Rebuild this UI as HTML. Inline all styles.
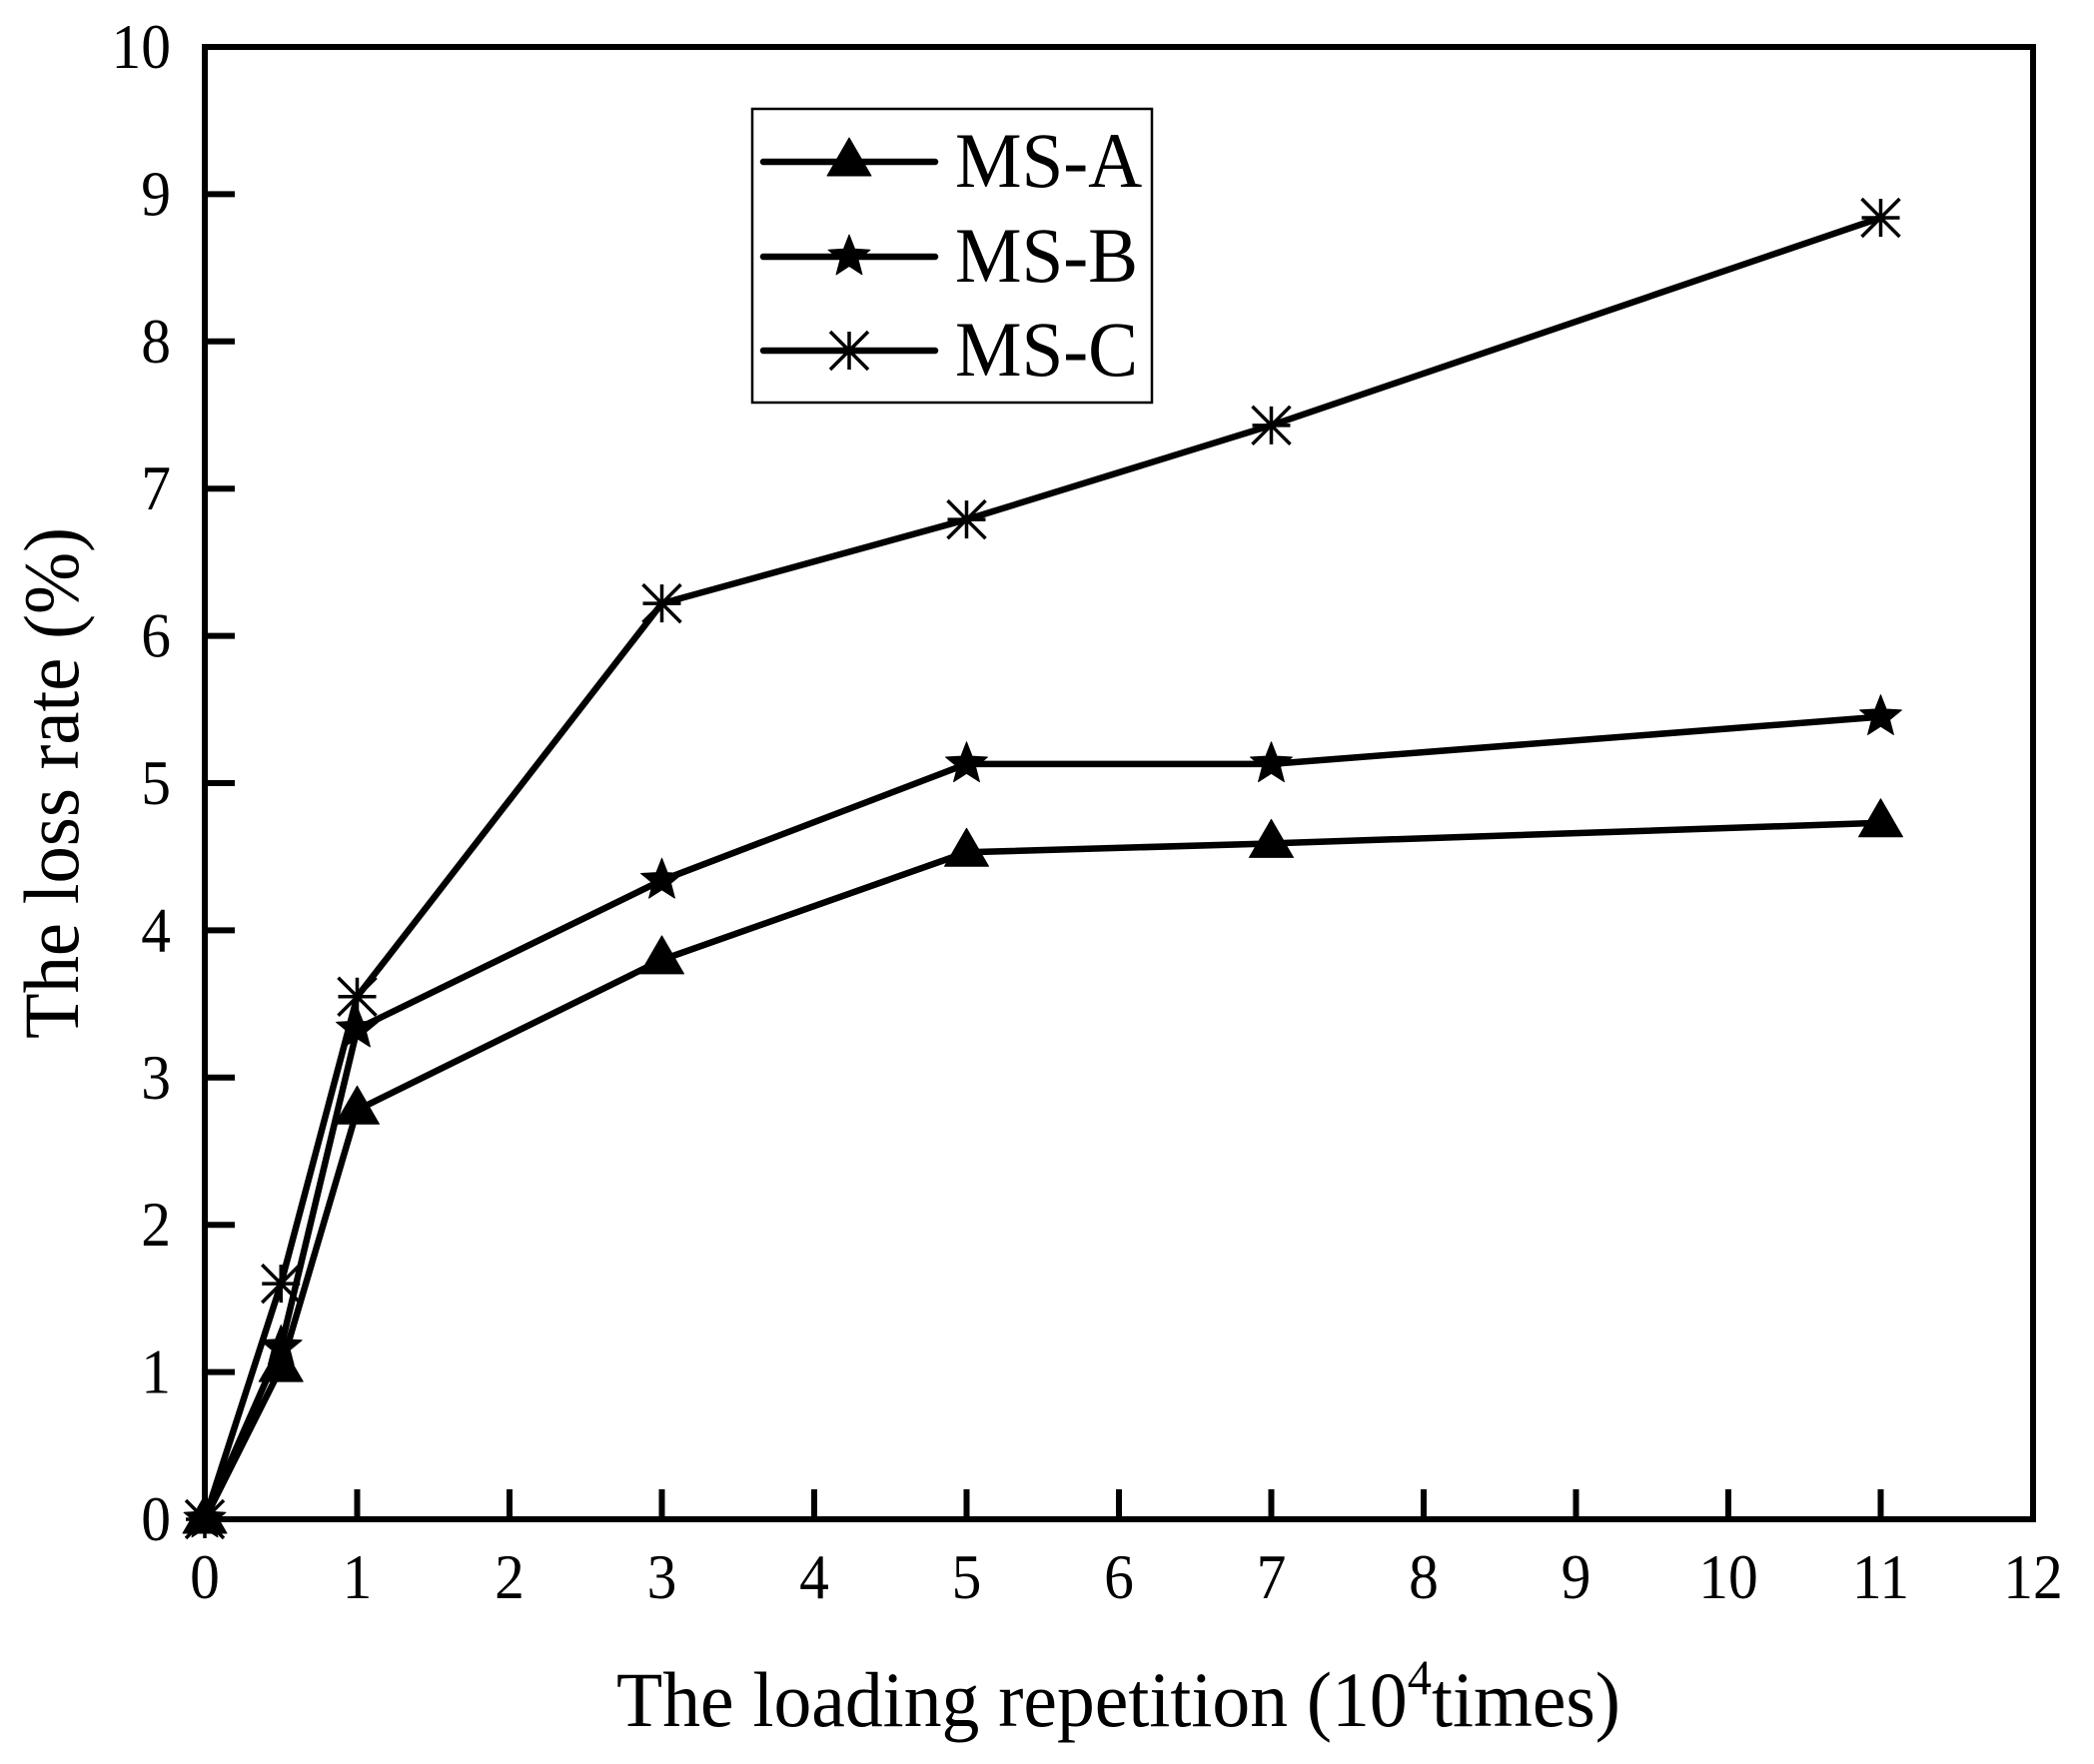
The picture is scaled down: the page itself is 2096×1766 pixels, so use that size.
<!DOCTYPE html>
<html lang="en">
<head>
<meta charset="utf-8">
<title>Loss rate vs loading repetition</title>
<style>
html,body{margin:0;padding:0;background:#fff;width:2096px;height:1766px;overflow:hidden}
svg{display:block}
text{font-family:"Liberation Serif","Times New Roman",serif;fill:#000}
</style>
</head>
<body>
<svg id="chart" xmlns="http://www.w3.org/2000/svg" width="2096" height="1766" viewBox="0 0 2096 1766">
  <rect x="0" y="0" width="2096" height="1766" fill="#fff"/>
  <g id="ticks"></g>
  <rect x="205" y="47" width="1830" height="1474" fill="none" stroke="#000" stroke-width="6"/>
  <g id="series"></g>
  <g id="labels"></g>
  <text x="617" y="1728" font-size="78" textLength="1005" lengthAdjust="spacingAndGlyphs">The loading repetition (10<tspan font-size="50" dy="-32">4</tspan><tspan dy="32">times)</tspan></text>
  <text transform="translate(78,1040) rotate(-90)" font-size="78" textLength="512" lengthAdjust="spacingAndGlyphs">The loss rate (%)</text>
  <g id="legend">
    <rect x="753" y="109" width="400" height="294" fill="#fff" stroke="#000" stroke-width="2.5"/>
  </g>
</svg>
<script>
const xTickValues = [0, 1, 2, 3, 4, 5, 6, 7, 8, 9, 10, 11, 12];
const yTickValues = [0, 1, 2, 3, 4, 5, 6, 7, 8, 9, 10];
const repetitions = [0, 0.5, 1, 3, 5, 7, 11];
const seriesNames = ['MS-A', 'MS-B', 'MS-C'];
const msA = [0, 1.03, 2.78, 3.80, 4.53, 4.59, 4.73];
const msB = [0, 1.17, 3.33, 4.34, 5.13, 5.13, 5.45];
const msC = [0, 1.60, 3.55, 6.22, 6.79, 7.43, 8.84];

const NS = 'http://www.w3.org/2000/svg';
const plot = { left: 205, right: 2035, top: 47, bottom: 1521, xMax: 12, yMax: 10 };
function xScale(v) { return plot.left + (v / plot.xMax) * (plot.right - plot.left); }
function yScale(v) { return plot.bottom - (v / plot.yMax) * (plot.bottom - plot.top); }
function make(tag, attrs) {
  const el = document.createElementNS(NS, tag);
  for (const k in attrs) el.setAttribute(k, attrs[k]);
  return el;
}

const ticksG = document.getElementById('ticks');
const labelsG = document.getElementById('labels');
const seriesG = document.getElementById('series');
const legendG = document.getElementById('legend');

xTickValues.forEach(function (v) {
  const x = xScale(v);
  if (v > 0 && v < plot.xMax) {
    const t = make('line', { x1: x, x2: x, y1: plot.bottom, y2: plot.bottom - 30, stroke: '#000', 'stroke-width': 6 });
    
    
    ticksG.appendChild(t);
  }
  const l = make('text', { transform: 'translate(' + x + ',1600) scale(0.93,1)', 'font-size': 64, 'text-anchor': 'middle' });
  
  
  l.textContent = v;
  labelsG.appendChild(l);
});

yTickValues.forEach(function (v) {
  const y = yScale(v);
  if (v > 0 && v < plot.yMax) {
    const t = make('line', { x1: plot.left, x2: plot.left + 30, y1: y, y2: y, stroke: '#000', 'stroke-width': 6 });
    
    
    ticksG.appendChild(t);
  }
  const l = make('text', { transform: 'translate(171,' + (y + 21) + ') scale(0.93,1)', 'font-size': 64, 'text-anchor': 'end' });
  
  
  l.textContent = v;
  labelsG.appendChild(l);
});

function triangleMarker(cx, cy) {
  const p = make('polygon', {
    points: [[cx, cy - 24], [cx + 22, cy + 14], [cx - 22, cy + 14]].map(function (q) { return q.join(','); }).join(' '),
    fill: '#000', stroke: '#000', 'stroke-width': 1, 'stroke-linejoin': 'round'
  });
  return p;
}
function starMarker(cx, cy) {
  const pts = [];
  for (let i = 0; i < 10; i++) {
    const r = i % 2 === 0 ? 22 : 9.5;
    const a = -Math.PI / 2 + i * Math.PI / 5;
    pts.push((cx + r * Math.cos(a)).toFixed(2) + ',' + (cy + r * Math.sin(a)).toFixed(2));
  }
  return make('polygon', { points: pts.join(' '), fill: '#000', stroke: '#000', 'stroke-width': 1, 'stroke-linejoin': 'round' });
}
function asteriskMarker(cx, cy) {
  const s = 19;
  const d = ['M', cx - s, cy, 'H', cx + s, 'M', cx, cy - s, 'V', cy + s,
             'M', cx - s, cy - s, 'L', cx + s, cy + s, 'M', cx - s, cy + s, 'L', cx + s, cy - s].join(' ');
  return make('path', { d: d, fill: 'none', stroke: '#000', 'stroke-width': 3.5 });
}
const markers = [triangleMarker, starMarker, asteriskMarker];
const seriesValues = [msA, msB, msC];

seriesValues.forEach(function (vals, si) {
  const g = make('g', {});
  
  
  const pts = vals.map(function (v, i) { return xScale(repetitions[i]).toFixed(2) + ',' + yScale(v).toFixed(2); });
  const line = make('polyline', { points: pts.join(' '), fill: 'none', stroke: '#000', 'stroke-width': 6.5, 'stroke-linejoin': 'miter' });
  
  
  g.appendChild(line);
  vals.forEach(function (v, i) {
    const m = markers[si](xScale(repetitions[i]), yScale(v));
    
    
    g.appendChild(m);
  });
  seriesG.appendChild(g);
});

const legendLineY = [162, 257, 351];
seriesNames.forEach(function (name, i) {
  const g = make('g', {});
  
  
  const ln = make('line', { x1: 764, x2: 936, y1: legendLineY[i], y2: legendLineY[i], stroke: '#000', 'stroke-width': 6.5, 'stroke-linecap': 'round' });
  
  
  g.appendChild(ln);
  const mk = markers[i](850, legendLineY[i]);
  
  
  g.appendChild(mk);
  const t = make('text', { transform: 'translate(956,' + (legendLineY[i] + 25) + ') scale(0.96,1)', 'font-size': 78 });
  
  
  t.textContent = name;
  g.appendChild(t);
  legendG.appendChild(g);
});
</script>
</body>
</html>
